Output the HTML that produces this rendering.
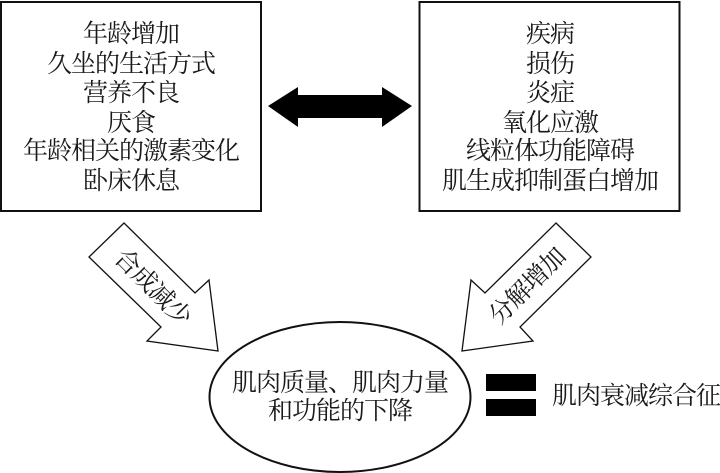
<!DOCTYPE html>
<html><head><meta charset="utf-8"><style>
html,body{margin:0;padding:0;background:#fff;width:720px;height:473px;overflow:hidden}
svg{display:block}
text{font-family:"Liberation Serif","Noto Serif CJK SC",serif;font-size:25px;letter-spacing:-1px;fill:#1a1a1a;text-anchor:middle}
</style></head><body>
<svg width="720" height="473" viewBox="0 0 720 473" xmlns="http://www.w3.org/2000/svg">
<rect width="720" height="473" fill="#fff"/>
<rect x="1" y="2" width="260" height="209" fill="#fff" stroke="#111" stroke-width="2"/>
<rect x="419.500" y="2" width="260" height="209" fill="#fff" stroke="#111" stroke-width="2"/>
<text x="131" y="42">年龄增加</text>
<text x="131" y="72">久坐的生活方式</text>
<text x="131" y="101">营养不良</text>
<text x="131" y="131">厌食</text>
<text x="131" y="159">年龄相关的激素变化</text>
<text x="131" y="189">卧床休息</text>
<text x="550" y="42">疾病</text>
<text x="550" y="72">损伤</text>
<text x="550" y="101">炎症</text>
<text x="550" y="131">氧化应激</text>
<text x="550" y="159">线粒体功能障碍</text>
<text x="550" y="189">肌生成抑制蛋白增加</text>
<polygon points="268,106 298,87 298,95 382,95 382,87 412,106 382,127 382,118 298,118 298,127" fill="#000"/>
<polygon points="124,223 89,257 161,327 147,341 218,351 209,280 195,293" fill="#fff" stroke="#111" stroke-width="1.300"/>
<polygon points="556,223 591,257 520,327 533,341 462,351 471,280 485,293" fill="#fff" stroke="#111" stroke-width="1.300"/>
<text transform="translate(153 287) rotate(45)" x="0" y="8.500">合成减少</text>
<text transform="translate(527 286) rotate(-45)" x="0" y="8.500">分解增加</text>
<ellipse cx="340" cy="397" rx="130.500" ry="75" fill="#fff" stroke="#111" stroke-width="2"/>
<text x="340" y="391">肌肉质量、肌肉力量</text>
<text x="340" y="419">和功能的下降</text>
<rect x="486" y="374" width="50" height="17" fill="#000"/>
<rect x="486" y="399" width="50" height="17" fill="#000"/>
<text x="636" y="404">肌肉衰减综合征</text>
</svg>
</body></html>
